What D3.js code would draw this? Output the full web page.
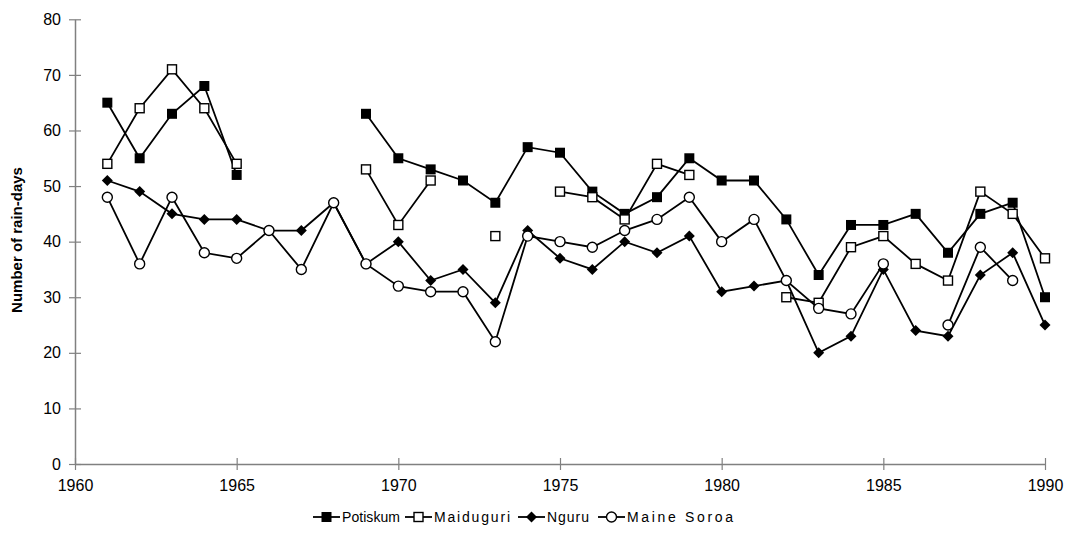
<!DOCTYPE html>
<html><head><meta charset="utf-8">
<script src="https://cdn.jsdelivr.net/npm/d3@7"></script>
<style>body{margin:0;background:#fff;} svg{display:block;font-family:Arial,"Liberation Sans",sans-serif;}</style>
</head><body>
<svg id="c" width="1072" height="552"></svg>
<script>
const years = d3.range(1961, 1991);
const potiskum  = [65,55,63,68,52,null,null,null,63,55,53,51,47,57,56,49,45,48,55,51,51,44,34,43,43,45,38,45,47,30];
const maiduguri = [54,64,71,64,54,null,null,null,53,43,51,null,41,null,49,48,44,54,52,null,null,30,29,39,41,36,33,49,45,37];
const nguru     = [51,49,45,44,44,42,42,47,36,40,33,35,29,42,37,35,40,38,41,31,32,33,20,23,35,24,23,34,38,25];
const maineSoroa= [48,36,48,38,37,42,35,47,36,32,31,31,22,41,40,39,42,44,48,40,44,33,28,27,36,null,25,39,33,null];
const yTicks = [0,10,20,30,40,50,60,70,80];
const xTicks = [1960,1965,1970,1975,1980,1985,1990];
const seriesNames = ["Potiskum","Maiduguri","Nguru","Maine Soroa"];
const seriesMarkers = ["fsquare","osquare","diamond","circle"];

const svg = d3.select("#c");
const x = d3.scaleLinear().domain([1960,1990]).range([75,1045]);
const y = d3.scaleLinear().domain([0,80]).range([464,19.3]);
const axisColor = "#808080";

// axes
const yAx = svg.append("g").attr("transform","translate(75,0)")
  .call(d3.axisLeft(y).tickValues(yTicks).tickSize(6).tickPadding(8).tickSizeOuter(0));
yAx.selectAll(".tick line").clone().attr("x2",6);
const xAx = svg.append("g").attr("transform","translate(0,464)")
  .call(d3.axisBottom(x).tickValues(xTicks).tickFormat(d3.format("d")).tickSize(6).tickPadding(10).tickSizeOuter(0));
xAx.selectAll(".tick line").clone().attr("y2",-6);
[yAx,xAx].forEach(g=>{
  g.select(".domain").attr("stroke",axisColor).attr("stroke-width",1.5);
  g.selectAll(".tick line").attr("stroke",axisColor).attr("stroke-width",1.2);
  g.selectAll(".tick text").attr("font-size",16).attr("fill","#000").attr("font-family","Arial, 'Liberation Sans', sans-serif");
});

svg.append("text").attr("transform","translate(22,240) rotate(-90)")
  .attr("text-anchor","middle").attr("font-size",15).attr("font-weight","bold").text("Number of rain-days");

function drawMarker(g, type, cx, cy){
  if(type==="fsquare") g.append("rect").attr("x",cx-5).attr("y",cy-5).attr("width",10).attr("height",10).attr("fill","#000");
  else if(type==="osquare") g.append("rect").attr("x",cx-4.5).attr("y",cy-4.5).attr("width",9).attr("height",9).attr("fill","#fff").attr("stroke","#000").attr("stroke-width",1.4);
  else if(type==="diamond") g.append("path").attr("d",`M${cx},${cy-5.5}L${cx+5.5},${cy}L${cx},${cy+5.5}L${cx-5.5},${cy}Z`).attr("fill","#000");
  else g.append("circle").attr("cx",cx).attr("cy",cy).attr("r",5).attr("fill","#fff").attr("stroke","#000").attr("stroke-width",1.4);
}

const allSeries = [potiskum, maiduguri, nguru, maineSoroa];
const line = d3.line().defined(d=>d.v!==null).x(d=>x(d.yr)).y(d=>y(d.v));
[0,1,2,3].forEach(si=>{
  const data = years.map((yr,i)=>({yr, v: allSeries[si][i]}));
  const g = svg.append("g");
  g.append("path").datum(data).attr("d",line).attr("fill","none").attr("stroke","#000").attr("stroke-width",1.8);
  data.filter(d=>d.v!==null).forEach(d=>drawMarker(g, seriesMarkers[si], x(d.yr), y(d.v)));
});

// legend
const legX = [313, 405, 518, 598];
const legW = [58, 76, 42, 106];
const lg = svg.append("g");
seriesNames.forEach((n,i)=>{
  const lx = legX[i], ly = 517;
  lg.append("line").attr("x1",lx).attr("x2",lx+27).attr("y1",ly).attr("y2",ly).attr("stroke","#000").attr("stroke-width",1.8);
  drawMarker(lg, seriesMarkers[i], lx+13.5, ly);
  lg.append("text").attr("x",lx+29).attr("y",ly+5).attr("font-size",14)
    .attr("textLength",legW[i]).attr("lengthAdjust","spacing").text(n);
});
</script>
</body></html>
